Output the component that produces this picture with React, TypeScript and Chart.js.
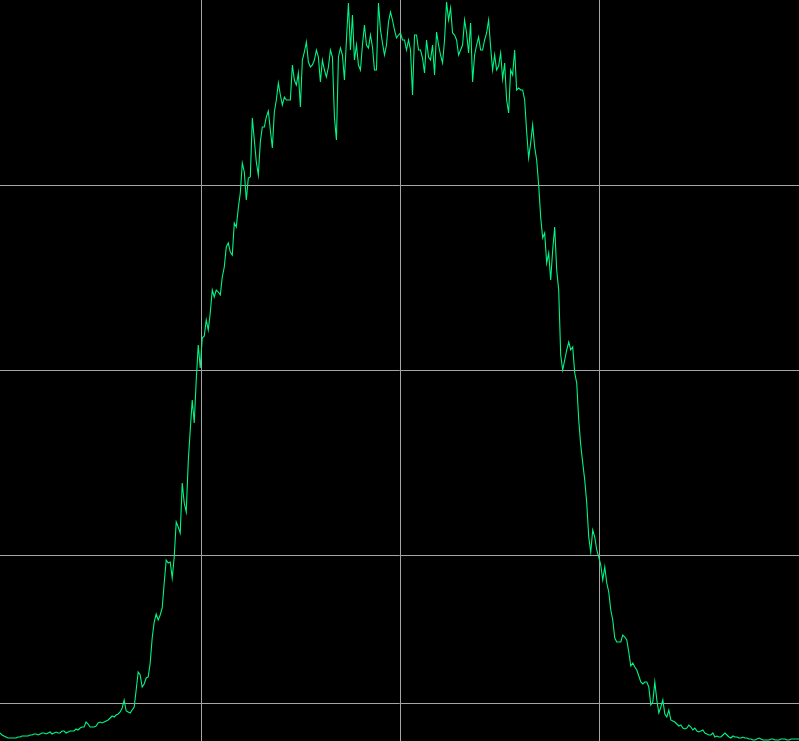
import React, { useEffect, useRef } from "react";
import { Chart, registerables } from "chart.js";

Chart.register(...registerables);

// Signal amplitude, one sample every ~2 px of the trace (height units 0..741)
const amplitude: number[] = [
  8, 6, 5, 4, 3, 3, 3, 3, 3, 4,
  4, 5, 5, 5, 5, 6, 6, 7, 7, 6,
  7, 8, 8, 7, 8, 9, 7, 8, 9, 8,
  8, 10, 10, 8, 9, 10, 10, 10, 12, 11,
  13, 14, 14, 19, 17, 14, 14, 14, 15, 18,
  19, 18, 19, 20, 21, 23, 25, 24, 26, 27,
  29, 33, 41, 30, 29, 28, 31, 34, 51, 69,
  66, 54, 57, 63, 64, 78, 103, 119, 127, 121,
  126, 133, 158, 181, 178, 179, 163, 184, 219, 214,
  208, 258, 238, 229, 279, 311, 341, 318, 361, 396,
  373, 403, 405, 421, 411, 428, 451, 444, 451, 449,
  446, 464, 474, 494, 498, 489, 486, 518, 514, 533,
  548, 578, 569, 541, 563, 564, 623, 601, 579, 566,
  599, 614, 614, 624, 630, 611, 593, 629, 641, 658,
  646, 636, 644, 641, 641, 641, 676, 661, 656, 668,
  634, 681, 689, 699, 679, 674, 676, 681, 691, 684,
  659, 681, 671, 664, 674, 691, 684, 624, 601, 684,
  693, 686, 661, 701, 738, 691, 726, 681, 696, 676,
  671, 696, 716, 696, 693, 706, 694, 671, 671, 738,
  711, 698, 686, 696, 719, 729, 721, 711, 703, 706,
  708, 701, 701, 691, 701, 691, 646, 706, 706, 691,
  691, 683, 668, 701, 684, 681, 696, 666, 709, 696,
  686, 678, 701, 739, 721, 733, 708, 706, 701, 686,
  691, 696, 721, 708, 688, 718, 659, 686, 696, 704,
  691, 691, 701, 708, 721, 694, 671, 686, 671, 675,
  688, 662, 678, 641, 628, 671, 666, 691, 651, 653,
  651, 651, 641, 609, 583, 598, 616, 594, 581, 556,
  524, 503, 508, 478, 488, 461, 491, 514, 471, 451,
  386, 371, 381, 391, 399, 391, 394, 368, 358, 321,
  296, 278, 261, 238, 204, 189, 211, 204, 191, 184,
  176, 161, 174, 158, 149, 131, 121, 103, 99, 99,
  99, 106, 104, 101, 89, 75, 78, 74, 71, 65,
  59, 57, 59, 59, 54, 36, 39, 59, 41, 28,
  34, 41, 27, 24, 31, 21, 20, 19, 17, 15,
  16, 13, 12, 13, 16, 14, 11, 13, 10, 9,
  10, 11, 8, 7, 6, 6, 8, 4, 5, 4,
  4, 6, 8, 6, 4, 3, 5, 4, 4, 3,
  3, 4, 3, 3, 2, 2, 1, 1, 2, 3,
  2, 1, 1, 1, 1, 2, 2, 1, 1, 1,
  2, 2, 2, 1, 1, 2, 2, 2, 2, 2,
];

const sampleIndex: number[] = amplitude.map((_, i) => i);

const yMax = 741;
const xGridTicks: number[] = [100.4, 199.8, 299.2];
const yGridTicks: number[] = [38, 185.25, 370.5, 555.75];

export default function App() {
  const canvasRef = useRef<HTMLCanvasElement | null>(null);

  useEffect(() => {
    if (!canvasRef.current) return;
    const gridColor = "rgba(165,165,165,1)";
    const chart = new Chart(canvasRef.current, {
      type: "line",
      data: {
        datasets: [
          {
            data: sampleIndex.map((x, i) => ({ x, y: amplitude[i] })),
            borderColor: "#00f582",
            borderWidth: 1.1,
            pointRadius: 0,
            tension: 0,
            fill: false,
          },
        ],
      },
      options: {
        animation: false,
        responsive: false,
        maintainAspectRatio: false,
        layout: { padding: 0 },
        plugins: {
          legend: { display: false },
          tooltip: { enabled: false },
          title: { display: false },
        },
        scales: {
          x: {
            type: "linear",
            min: 0,
            max: sampleIndex.length - 1,
            border: { display: false },
            ticks: { display: false },
            grid: { color: gridColor, lineWidth: 1, drawTicks: false },
            afterBuildTicks: (s: any) => {
              s.ticks = xGridTicks.map((v) => ({ value: v }));
            },
            afterFit: (s: any) => {
              s.height = 0;
            },
          },
          y: {
            type: "linear",
            min: 0,
            max: yMax,
            border: { display: false },
            ticks: { display: false },
            grid: { color: gridColor, lineWidth: 1, drawTicks: false },
            afterBuildTicks: (s: any) => {
              s.ticks = yGridTicks.map((v) => ({ value: v }));
            },
            afterFit: (s: any) => {
              s.width = 0;
            },
          },
        },
      },
    });
    return () => chart.destroy();
  }, []);

  return (
    <div
      style={{
        position: "fixed",
        left: 0,
        top: 0,
        width: 799,
        height: 741,
        background: "#000",
      }}
    >
      <canvas ref={canvasRef} width={799} height={741} style={{ display: "block" }} />
    </div>
  );
}
